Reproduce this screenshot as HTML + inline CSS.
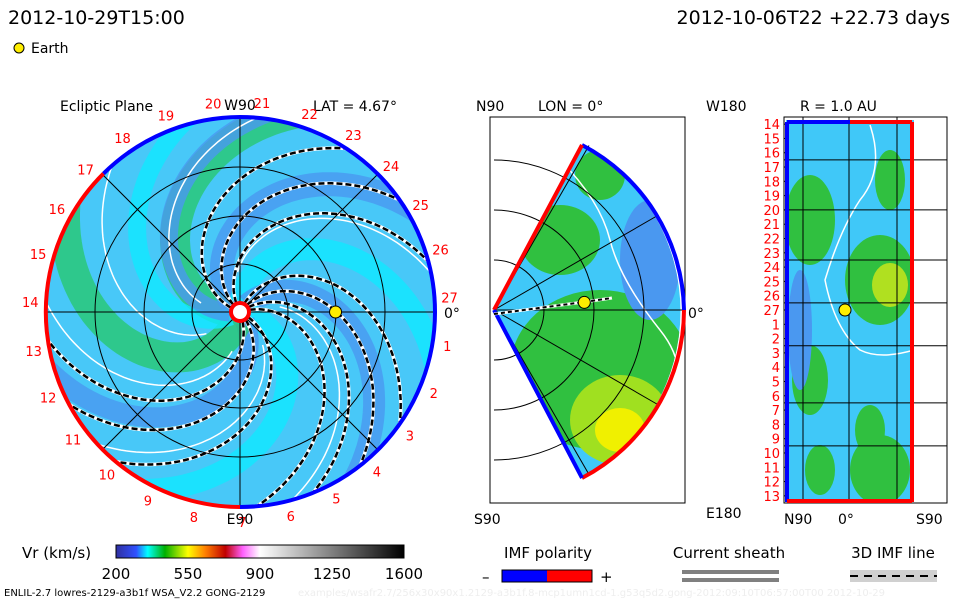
<!DOCTYPE html>
<html><head><meta charset="utf-8"><style>
body{margin:0;background:#fff;width:960px;height:600px;overflow:hidden}
svg{position:absolute;left:0;top:0}
text{font-family:"DejaVu Sans","Liberation Sans",sans-serif}
</style></head><body>
<svg id="s" width="960" height="600" xmlns="http://www.w3.org/2000/svg">
<defs>
<linearGradient id="cb" x1="0" x2="1">
<stop offset="0" stop-color="#3030a0"/><stop offset="0.07" stop-color="#3050ff"/><stop offset="0.11" stop-color="#00ffff"/><stop offset="0.17" stop-color="#00b000"/><stop offset="0.25" stop-color="#ffff00"/><stop offset="0.31" stop-color="#ff8000"/><stop offset="0.38" stop-color="#c00000"/><stop offset="0.44" stop-color="#ff60ff"/><stop offset="0.5" stop-color="#ffffff"/><stop offset="1" stop-color="#000000"/></linearGradient>
<clipPath id="clipL"><circle cx="240" cy="312" r="195"/></clipPath>
<clipPath id="clipM"><path d="M494 310 L582 145 A190 190 0 0 1 582 478 Z"/></clipPath>
<clipPath id="clipR"><rect x="786" y="120" width="128" height="382"/></clipPath>
</defs>
<text x="8" y="24" font-size="19">2012-10-29T15:00</text>
<text x="950" y="24" font-size="19" text-anchor="end">2012-10-06T22 +22.73 days</text>
<circle cx="19" cy="48" r="5" fill="#ffee00" stroke="#000"/>
<text x="31" y="53" font-size="14">Earth</text>
<text x="60" y="111" font-size="14">Ecliptic Plane</text>
<text x="313" y="111" font-size="14">LAT = 4.67°</text>
<text x="476" y="111" font-size="14">N90</text>
<text x="538" y="111" font-size="14">LON = 0°</text>
<text x="706" y="111" font-size="14">W180</text>
<text x="800" y="111" font-size="14">R = 1.0 AU</text>
<g id="left"></g>
<g id="mid"></g>
<g id="right"></g>
<g id="bottom"></g>
</svg>
<script>
const NS="http://www.w3.org/2000/svg";
const lonLabels=[1,2,3,4,5,6,7,8,9,10,11,12,13,14,15,16,17,18,19,20,21,22,23,24,25,26,27];
const rowLabels=[14,15,16,17,18,19,20,21,22,23,24,25,26,27,1,2,3,4,5,6,7,8,9,10,11,12,13];
const cbTicks=[200,550,900,1250,1600];
const armEndsDeg=[-57,-35,-15,35,52,68,85,130,152,172];
const earthR=0.49, earthLat=4.67;
function el(t,a,p){const e=document.createElementNS(NS,t);for(const k in a)e.setAttribute(k,a[k]);(p||document.getElementById('s')).appendChild(e);return e;}
const L=document.getElementById('left'),M=document.getElementById('mid'),R=document.getElementById('right'),B=document.getElementById('bottom');
const cx=240,cy=312,RR=195,W=1.8;
el('circle',{cx,cy,r:RR,fill:'#48c8f8'},L);
const gl=el('g',{'clip-path':'url(#clipL)'},L);
function spiralPath(phi0,wind,r0,r1){let d='';for(let i=0;i<=60;i++){const r=r0+(r1-r0)*i/60;const a=phi0+wind*(r/RR);d+=(i?'L':'M')+(cx+r*Math.cos(a)).toFixed(1)+' '+(cy+r*Math.sin(a)).toFixed(1);}return d;}
const bands=[[-3.2,'#28c870',30],[-2.4,'#4a98f0',24],[-1.6,'#10e8ff',22],[-0.9,'#4a98f0',22],[0.2,'#10e8ff',22],[1.0,'#4a98f0',20],[1.8,'#28c870',30],[2.6,'#10e8ff',18],[3.0,'#4a98f0',18]];
bands.forEach(b=>{el('path',{d:spiralPath(b[0],W,10,RR+40),stroke:b[1],'stroke-width':b[2],fill:'none','stroke-opacity':0.8},gl);});
[-2.8,-2.0,-1.2,-0.5,0.6,1.4,2.2,3.0].forEach(p=>el('path',{d:spiralPath(p,W,40,RR),stroke:'#fff','stroke-width':1.5,fill:'none'},gl));
[48,96,145].forEach(r=>el('circle',{cx,cy,r,fill:'none',stroke:'#000','stroke-width':1},L));
[[0,1],[1,0],[0.707,0.707],[0.707,-0.707]].forEach(v=>el('line',{x1:cx-RR*v[0],y1:cy-RR*v[1],x2:cx+RR*v[0],y2:cy+RR*v[1],stroke:'#000','stroke-width':1},L));
armEndsDeg.forEach(e=>{const p=e*Math.PI/180-W;const d=spiralPath(p,W,10,RR);const a=el('path',{d,stroke:'#fff','stroke-width':3.5,fill:'none'},gl);


el('path',{d,stroke:'#000','stroke-width':2.5,fill:'none','stroke-dasharray':'6 3'},gl);});
el('path',{d:`M${cx} ${cy-RR} A${RR} ${RR} 0 0 1 ${cx} ${cy+RR}`,stroke:'#0000ff','stroke-width':4,fill:'none'},L);
el('path',{d:`M${cx} ${cy+RR} A${RR} ${RR} 0 0 1 ${cx-RR*0.7} ${cy-RR*0.71}`,stroke:'#ff0000','stroke-width':4,fill:'none'},L);
el('path',{d:`M${cx-RR*0.7} ${cy-RR*0.71} A${RR} ${RR} 0 0 1 ${cx} ${cy-RR}`,stroke:'#0000ff','stroke-width':4,fill:'none'},L);
el('circle',{cx,cy,r:9,fill:'#fff',stroke:'#ff0000','stroke-width':4},L);
lonLabels.forEach(k=>{const a=(4-(k%27)*360/27)*Math.PI/180;const t=el('text',{x:cx+210*Math.cos(a),y:cy-210*Math.sin(a)+5,'font-size':13,fill:'#ff0000','text-anchor':'middle'},L);t.textContent=k;

});
const ee=el('circle',{cx:cx+earthR*RR,cy:cy,r:6,fill:'#ffee00',stroke:'#000'},L);


let t=el('text',{x:240,y:110,'font-size':14,'text-anchor':'middle'},L);t.textContent='W90';
t=el('text',{x:240,y:524,'font-size':14,'text-anchor':'middle'},L);t.textContent='E90';
t=el('text',{x:444,y:318,'font-size':14},L);t.textContent='0°';
// middle
const ax=494,ay=310,MR=190;
el('rect',{x:490,y:117,width:195,height:386,fill:'none',stroke:'#000'},M);
const gm=el('g',{'clip-path':'url(#clipM)'},M);
el('rect',{x:490,y:117,width:200,height:390,fill:'#40c8f8'},gm);
el('ellipse',{cx:600,cy:370,rx:90,ry:80,fill:'#30c040'},gm);
el('ellipse',{cx:620,cy:420,rx:50,ry:45,fill:'#a0e020'},gm);
el('ellipse',{cx:620,cy:430,rx:25,ry:22,fill:'#f0f000'},gm);
el('ellipse',{cx:560,cy:240,rx:40,ry:35,fill:'#30c040'},gm);
el('ellipse',{cx:600,cy:175,rx:25,ry:25,fill:'#30c040'},gm);
el('ellipse',{cx:650,cy:260,rx:30,ry:60,fill:'#4a98f0'},gm);
el('path',{d:'M560 160 Q600 200 610 240 T660 330 T650 420',stroke:'#fff','stroke-width':1.5,fill:'none'},gm);
[50,100,150].forEach(r=>el('path',{d:`M${ax} ${ay-r} A${r} ${r} 0 0 1 ${ax} ${ay+r}`,fill:'none',stroke:'#000'},M));
[60,30,0,-30,-60].forEach(d=>{const a=d*Math.PI/180;el('line',{x1:ax,y1:ay,x2:ax+MR*Math.cos(a),y2:ay-MR*Math.sin(a),stroke:'#000'},M);});
el('path',{d:`M582 145 A${MR} ${MR} 0 0 1 ${ax+MR} ${ay}`,stroke:'#0000ff','stroke-width':4,fill:'none'},M);
el('path',{d:`M${ax+MR} ${ay} A${MR} ${MR} 0 0 1 582 478`,stroke:'#ff0000','stroke-width':4,fill:'none'},M);
el('line',{x1:ax,y1:ay,x2:582,y2:145,stroke:'#ff0000','stroke-width':4},M);
el('line',{x1:ax,y1:ay,x2:582,y2:478,stroke:'#0000ff','stroke-width':4},M);
el('path',{d:`M${ax} ${ay+4} L584 302 L612 298`,stroke:'#fff','stroke-width':3,fill:'none'},M);
el('path',{d:`M${ax} ${ay+4} L584 302 L612 298`,stroke:'#000','stroke-width':2,fill:'none','stroke-dasharray':'4 3'},M);
const em=el('circle',{cx:ax+earthR*MR*0.97,cy:ay-earthR*MR*Math.sin(earthLat*Math.PI/180),r:6,fill:'#ffee00',stroke:'#000'},M);


t=el('text',{x:474,y:524,'font-size':14},M);t.textContent='S90';
t=el('text',{x:688,y:318,'font-size':14},M);t.textContent='0°';
// right
el('rect',{x:784,y:117,width:163,height:386,fill:'#fff',stroke:'#000'},R);
const gr=el('g',{'clip-path':'url(#clipR)'},R);
el('rect',{x:786,y:120,width:128,height:382,fill:'#40c8f8'},gr);
[[810,220,25,45],[880,280,35,45],[890,290,20,25],[810,380,18,35],[880,470,30,35],[870,430,15,25],[820,470,15,25],[890,180,15,30]].forEach(b=>el('ellipse',{cx:b[0],cy:b[1],rx:b[2],ry:b[3],fill:'#30c040'},gr));
el('ellipse',{cx:890,cy:285,rx:18,ry:22,fill:'#b0e020'},gr);
el('ellipse',{cx:800,cy:330,rx:12,ry:60,fill:'#4a98f0'},gr);
el('path',{d:'M870 125 Q885 170 860 200 Q840 230 825 280 Q835 330 860 350 Q880 360 914 350',stroke:'#fff','stroke-width':1.5,fill:'none'},gr);
const rowH=386/27;
rowLabels.forEach((k,i)=>{const y=117+rowH*(i+0.5)+5;const tt=el('text',{x:780,y,'font-size':13,fill:'#ff0000','text-anchor':'end'},R);tt.textContent=k;


el('line',{x1:784,y1:117+rowH*(i+0.5),x2:789,y2:117+rowH*(i+0.5),stroke:'#000'},R);});
[3,6.5,10,13,16,20,23].forEach(i=>el('line',{x1:784,y1:117+rowH*i,x2:947,y2:117+rowH*i,stroke:'#000'},R));
[803,849,897].forEach(x=>el('line',{x1:x,y1:117,x2:x,y2:503,stroke:'#000'},R));
el('line',{x1:787,y1:122,x2:787,y2:502,stroke:'#0000ff','stroke-width':4},R);
el('line',{x1:912,y1:122,x2:912,y2:502,stroke:'#ff0000','stroke-width':4},R);
el('line',{x1:787,y1:122,x2:850,y2:122,stroke:'#0000ff','stroke-width':4},R);
el('line',{x1:850,y1:122,x2:912,y2:122,stroke:'#ff0000','stroke-width':4},R);
el('line',{x1:787,y1:501,x2:912,y2:501,stroke:'#ff0000','stroke-width':4},R);
const er=el('circle',{cx:845,cy:117+rowH*13.5,r:6,fill:'#ffee00',stroke:'#000'},R);


t=el('text',{x:706,y:518,'font-size':14},R);t.textContent='E180';
t=el('text',{x:784,y:524,'font-size':14},R);t.textContent='N90';
t=el('text',{x:838,y:524,'font-size':14},R);t.textContent='0°';
t=el('text',{x:916,y:524,'font-size':14},R);t.textContent='S90';
// bottom
t=el('text',{x:22,y:558,'font-size':15},B);t.textContent='Vr (km/s)';
const cbar=el('rect',{x:116,y:545,width:288,height:13,fill:'url(#cb)',stroke:'#000'},B);


cbTicks.forEach(v=>{const x=116+(v-200)/(1600-200)*288;const tt=el('text',{x,y:579,'font-size':15,'text-anchor':'middle'},B);tt.textContent=v;

});
t=el('text',{x:4,y:596,'font-size':10},B);t.textContent='ENLIL-2.7 lowres-2129-a3b1f WSA_V2.2 GONG-2129';
t=el('text',{x:298,y:596,'font-size':10,fill:'#eee'},B);t.textContent='examples/wsafr2.7/256x30x90x1.2129-a3b1f.8-mcp1umn1cd-1.g53q5d2.gong-2012:09:10T06:57:00T00   2012-10-29';
t=el('text',{x:548,y:558,'font-size':15,'text-anchor':'middle'},B);t.textContent='IMF polarity';
t=el('text',{x:482,y:582,'font-size':15},B);t.textContent='–';
el('rect',{x:502,y:570,width:45,height:12,fill:'#0000ff'},B);
el('rect',{x:547,y:570,width:45,height:12,fill:'#ff0000'},B);
el('rect',{x:502,y:570,width:90,height:12,fill:'none',stroke:'#000'},B);
t=el('text',{x:600,y:582,'font-size':15},B);t.textContent='+';
t=el('text',{x:729,y:558,'font-size':15,'text-anchor':'middle'},B);t.textContent='Current sheath';
el('rect',{x:682,y:570,width:97,height:4,fill:'#808080'},B);
el('rect',{x:682,y:578,width:97,height:4,fill:'#808080'},B);
t=el('text',{x:893,y:558,'font-size':15,'text-anchor':'middle'},B);t.textContent='3D IMF line';
el('rect',{x:850,y:570,width:87,height:12,fill:'#d0d0d0'},B);
el('line',{x1:850,y1:576,x2:937,y2:576,stroke:'#000','stroke-width':2,'stroke-dasharray':'8 6'},B);
</script>
</body></html>
